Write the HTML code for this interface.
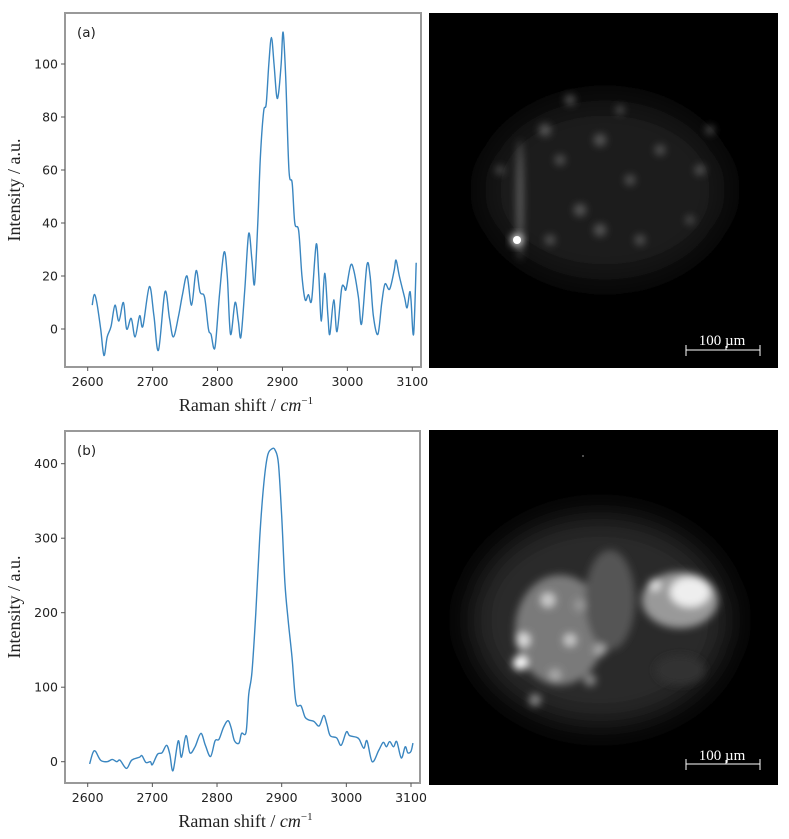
<!DOCTYPE html>
<html><head><meta charset="utf-8">
<style>
html,body{margin:0;padding:0;background:#fff;width:789px;height:839px;overflow:hidden}
svg{display:block}
text{font-family:"DejaVu Sans","Liberation Sans",sans-serif;fill:#222}
.ser{font-family:"Liberation Serif",serif}
</style></head><body>
<svg id="fig" width="789" height="839" viewBox="0 0 789 839">
<defs>
<filter id="blur1" x="-50%" y="-50%" width="200%" height="200%"><feGaussianBlur stdDeviation="4"/></filter>
<filter id="blur2" x="-50%" y="-50%" width="200%" height="200%"><feGaussianBlur stdDeviation="16"/></filter>
<clipPath id="clipA"><rect x="429" y="13" width="349" height="355"/></clipPath>
<clipPath id="clipB"><rect x="429" y="430" width="349" height="355"/></clipPath>
</defs>
<g id="chartA"></g>
<g id="chartB"></g>

<g clip-path="url(#clipA)">
<rect x="429" y="13" width="349" height="355" fill="#000"/>
<ellipse cx="605" cy="190" rx="120" ry="90" fill="#1c1c1c" filter="url(#blur2)"/>
<g filter="url(#blur1)" fill="#5a5a5a">
<ellipse cx="520" cy="200" rx="3" ry="60" fill="#666"/>
<circle cx="545" cy="130" r="6"/><circle cx="560" cy="160" r="5"/><circle cx="600" cy="140" r="6"/>
<circle cx="630" cy="180" r="5"/><circle cx="580" cy="210" r="6"/><circle cx="550" cy="240" r="5"/>
<circle cx="660" cy="150" r="5"/><circle cx="700" cy="170" r="5"/><circle cx="710" cy="130" r="4"/>
<circle cx="640" cy="240" r="5"/><circle cx="600" cy="230" r="6"/><circle cx="570" cy="100" r="5"/>
<circle cx="690" cy="220" r="4"/><circle cx="500" cy="170" r="4"/><circle cx="620" cy="110" r="4"/>
</g>
<circle cx="517" cy="240" r="6" fill="#ddd" filter="url(#blur1)"/>
<circle cx="517" cy="240" r="4" fill="#fff"/>
<g>
<line x1="686" y1="350" x2="760" y2="350" stroke="#fff" stroke-width="1"/>
<line x1="686" y1="345" x2="686" y2="356" stroke="#fff"/>
<line x1="760" y1="345" x2="760" y2="356" stroke="#fff"/>
<line x1="726" y1="346" x2="726" y2="350" stroke="#fff"/>
<text x="722" y="345" text-anchor="middle" class="ser" font-size="15" style="fill:#fff">100 µm</text>
</g>
</g>

<g clip-path="url(#clipB)">
<rect x="429" y="430" width="349" height="355" fill="#000"/>
<ellipse cx="600" cy="620" rx="130" ry="105" fill="#2c2c2c" filter="url(#blur2)"/>
<g filter="url(#blur1)">
<ellipse cx="560" cy="630" rx="45" ry="55" fill="#7a7a7a"/>
<ellipse cx="610" cy="600" rx="25" ry="50" fill="#555"/>
<ellipse cx="680" cy="600" rx="38" ry="28" fill="#999"/>
<ellipse cx="690" cy="592" rx="20" ry="15" fill="#eee"/>
<circle cx="523" cy="640" r="7" fill="#ddd"/><circle cx="520" cy="663" r="7" fill="#fff"/>
<circle cx="548" cy="600" r="7" fill="#ccc"/><circle cx="570" cy="640" r="6" fill="#ccc"/>
<circle cx="555" cy="675" r="6" fill="#aaa"/><circle cx="600" cy="650" r="6" fill="#aaa"/>
<circle cx="580" cy="605" r="6" fill="#999"/><circle cx="655" cy="585" r="6" fill="#ddd"/>
<circle cx="535" cy="700" r="6" fill="#888"/><circle cx="590" cy="680" r="6" fill="#888"/>
<ellipse cx="680" cy="670" rx="25" ry="15" fill="#333"/>
</g>
<circle cx="583" cy="456" r="1" fill="#666"/>
<g>
<line x1="686" y1="764" x2="760" y2="764" stroke="#fff" stroke-width="1"/>
<line x1="686" y1="759" x2="686" y2="770" stroke="#fff"/>
<line x1="760" y1="759" x2="760" y2="770" stroke="#fff"/>
<line x1="726" y1="760" x2="726" y2="764" stroke="#fff"/>
<text x="722" y="760" text-anchor="middle" class="ser" font-size="15" style="fill:#fff">100 µm</text>
</g>
</g>
</svg>
<script>
const xTicks = [2600, 2700, 2800, 2900, 3000, 3100];
const yTicksA = [0, 20, 40, 60, 80, 100];
const yTicksB = [0, 100, 200, 300, 400];
const shiftA = [2607,2610,2614,2620,2625,2630,2636,2642,2648,2655,2660,2667,2673,2680,2685,2695,2702,2709,2719,2726,2732,2740,2746,2753,2760,2767,2773,2780,2786,2790,2796,2803,2810,2815,2820,2827,2832,2836,2842,2848,2853,2857,2862,2866,2871,2875,2879,2883,2887,2891,2894,2898,2901,2905,2910,2915,2919,2925,2930,2935,2940,2945,2952,2956,2960,2965,2970,2973,2979,2984,2991,2995,2998,3005,3010,3017,3022,3030,3035,3040,3047,3053,3058,3065,3072,3075,3080,3088,3092,3096,3098,3102,3106];
const intensityA = [9,13,10,0,-10,-3,1,9,3,10,0,4,-3,5,1,16,5,-8,14,4,-3,5,13,20,9,22,14,12,0,-2,-7,13,29,20,-2,10,3,-3,15,36,26,17,40,65,82,85,100,110,100,88,89,100,112,95,60,55,40,37,20,11,13,11,32,20,3,21,5,-2,11,-1,15,16,15,24,22,12,2,24,20,5,-2,10,17,15,22,26,20,12,8,14,11,-2,25];
const shiftB = [2603,2608,2612,2620,2630,2638,2645,2650,2660,2668,2680,2684,2690,2697,2700,2708,2715,2722,2727,2732,2740,2745,2752,2758,2766,2775,2782,2790,2797,2803,2810,2817,2822,2827,2834,2838,2845,2849,2854,2860,2866,2872,2878,2885,2890,2895,2900,2905,2910,2916,2922,2930,2936,2942,2950,2958,2965,2970,2975,2985,2992,3000,3005,3015,3020,3027,3032,3040,3050,3057,3062,3067,3073,3078,3085,3091,3095,3100,3103];
const intensityB = [-3,12,14,2,0,3,0,2,-9,2,6,8,-1,0,-4,10,12,22,10,-12,28,6,35,12,20,38,22,7,28,30,46,55,45,28,25,38,40,90,120,200,300,370,410,420,418,400,330,240,190,140,80,75,60,56,54,48,62,50,35,32,22,40,35,33,30,18,28,0,15,26,20,27,20,27,5,20,12,14,25];

const NS='http://www.w3.org/2000/svg';
function mk(tag, attrs, parent){const e=document.createElementNS(NS,tag);for(const k in attrs)e.setAttribute(k,attrs[k]);parent.appendChild(e);return e;}
function smoothPath(pts){
  let d='M'+pts[0][0].toFixed(2)+','+pts[0][1].toFixed(2);
  for(let i=0;i<pts.length-1;i++){
    const p0=pts[Math.max(0,i-1)],p1=pts[i],p2=pts[i+1],p3=pts[Math.min(pts.length-1,i+2)];
    const c1=[p1[0]+(p2[0]-p0[0])/6,p1[1]+(p2[1]-p0[1])/6];
    const c2=[p2[0]-(p3[0]-p1[0])/6,p2[1]-(p3[1]-p1[1])/6];
    d+='C'+c1[0].toFixed(2)+','+c1[1].toFixed(2)+' '+c2[0].toFixed(2)+','+c2[1].toFixed(2)+' '+p2[0].toFixed(2)+','+p2[1].toFixed(2);
  }
  return d;
}
function drawChart(g, cfg, xs, ys, yTicks){
  const sx=v=>cfg.x0+(v-2600)*(cfg.x1-cfg.x0)/500;
  const sy=v=>cfg.y0+(v-cfg.yv0)*(cfg.yv1px-cfg.y0)/(cfg.yv1-cfg.yv0);
  const frame=mk('rect',{x:cfg.L,y:cfg.T,width:cfg.R-cfg.L,height:cfg.B-cfg.T,fill:'#fff',stroke:'#999','stroke-width':2},g);
  
  
  xTicks.forEach(t=>{
    const x=sx(t);
    const tk=mk('line',{x1:x,y1:cfg.B,x2:x,y2:cfg.B+4,stroke:'#555'},g);
    
    
    const tl=mk('text',{x:x,y:cfg.B+19,'text-anchor':'middle','font-size':12.5},g);
    tl.textContent=t;
    
    
  });
  yTicks.forEach(t=>{
    const y=sy(t);
    const tk=mk('line',{x1:cfg.L-4,y1:y,x2:cfg.L,y2:y,stroke:'#555'},g);
    
    
    const tl=mk('text',{x:cfg.L-7,y:y+4.5,'text-anchor':'end','font-size':12.5},g);
    tl.textContent=t;
    
    
  });
  const pts=xs.map((v,i)=>[sx(v),sy(ys[i])]);
  const line=mk('path',{d:smoothPath(pts),fill:'none',stroke:'#3a86c0','stroke-width':1.4},g);
  
  
  const pl=mk('text',{x:cfg.L+12,y:cfg.T+24,'font-size':13.5},g);
  pl.textContent=cfg.label;
  
  
  const xt=mk('text',{x:(cfg.L+cfg.R)/2+3,y:cfg.B+44,'text-anchor':'middle','font-size':18,class:'ser'},g);
  xt.innerHTML='Raman shift / <tspan font-style="italic">cm</tspan><tspan dy="-7" font-size="11">−1</tspan>';
  
  
  const cy=(cfg.T+cfg.B)/2;
  const yt=mk('text',{x:0,y:0,'text-anchor':'middle','font-size':18,class:'ser',transform:'translate(20,'+cy+') rotate(-90)'},g);
  yt.textContent='Intensity / a.u.';
  
  
}
drawChart(document.getElementById('chartA'),{L:65,R:421,T:13,B:367,x0:87.7,x1:412.3,y0:329,yv0:0,yv1:100,yv1px:64,label:'(a)'},shiftA,intensityA,yTicksA);
drawChart(document.getElementById('chartB'),{L:65,R:420,T:431,B:783,x0:87.7,x1:411,y0:761.7,yv0:0,yv1:400,yv1px:463.7,label:'(b)'},shiftB,intensityB,yTicksB);
</script>
</body></html>
